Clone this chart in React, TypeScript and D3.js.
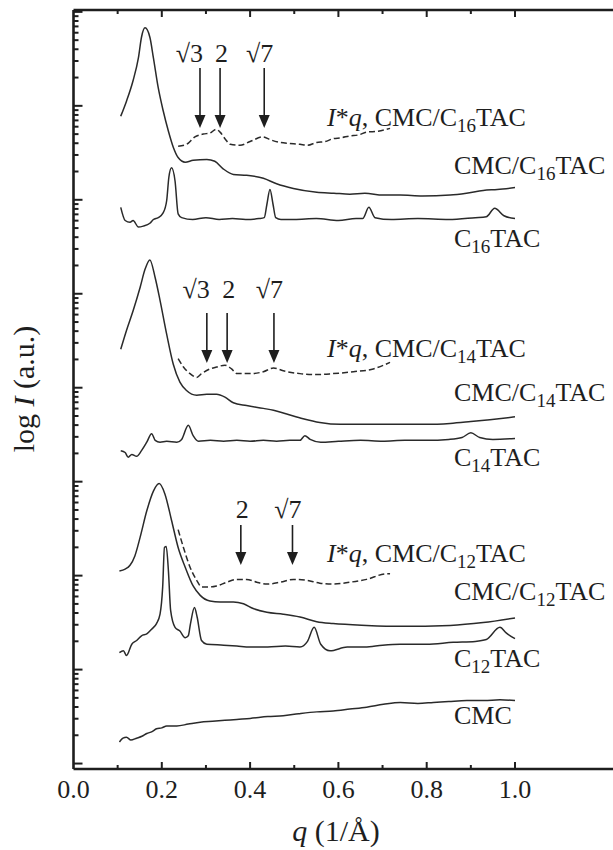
import React from 'react';
import * as d3 from 'd3';

const W = 613;
const H = 850;

// [q (1/Å), log10 I]
const cmcC16TAC: [number, number][] = [
  [0.107, 6.89], [0.120, 7.05], [0.135, 7.27], [0.147, 7.51], [0.154, 7.73], [0.162, 7.83],
  [0.173, 7.73], [0.181, 7.51], [0.192, 7.19], [0.203, 6.95], [0.215, 6.73], [0.226, 6.56],
  [0.237, 6.45], [0.253, 6.40], [0.271, 6.42], [0.302, 6.43], [0.320, 6.41], [0.339, 6.33],
  [0.362, 6.27], [0.392, 6.26], [0.430, 6.23], [0.460, 6.17], [0.498, 6.12], [0.551, 6.08],
  [0.590, 6.07], [0.626, 6.06], [0.660, 6.07], [0.701, 6.05], [0.740, 6.05], [0.790, 6.04],
  [0.853, 6.05], [0.890, 6.07], [0.928, 6.10], [0.960, 6.11], [1.000, 6.13],
];
const iqC16TAC: [number, number][] = [
  [0.237, 6.57], [0.256, 6.59], [0.275, 6.67], [0.294, 6.70], [0.309, 6.71], [0.323, 6.75],
  [0.332, 6.72], [0.343, 6.65], [0.355, 6.59], [0.377, 6.58], [0.400, 6.62], [0.429, 6.67],
  [0.445, 6.64], [0.468, 6.61], [0.490, 6.60], [0.513, 6.59], [0.530, 6.58], [0.551, 6.61],
  [0.570, 6.62], [0.588, 6.65], [0.606, 6.66], [0.626, 6.68], [0.645, 6.69], [0.664, 6.72],
  [0.690, 6.73], [0.717, 6.76],
];
const c16TAC: [number, number][] = [
  [0.107, 5.92], [0.117, 5.78], [0.128, 5.76], [0.135, 5.78], [0.147, 5.71], [0.158, 5.72],
  [0.173, 5.75], [0.181, 5.79], [0.192, 5.81], [0.203, 5.86], [0.211, 5.99], [0.216, 6.24],
  [0.222, 6.34], [0.230, 6.20], [0.237, 5.85], [0.245, 5.81], [0.270, 5.79], [0.300, 5.81],
  [0.330, 5.79], [0.360, 5.80], [0.390, 5.79], [0.420, 5.80], [0.432, 5.81], [0.438, 5.95],
  [0.445, 6.11], [0.452, 5.95], [0.458, 5.81], [0.470, 5.79], [0.500, 5.79], [0.550, 5.80],
  [0.600, 5.78], [0.640, 5.80], [0.655, 5.80], [0.669, 5.92], [0.683, 5.81], [0.720, 5.79],
  [0.780, 5.80], [0.850, 5.79], [0.910, 5.81], [0.935, 5.82], [0.954, 5.91], [0.975, 5.83],
  [1.000, 5.80],
];

const cmcC14TAC: [number, number][] = [
  [0.107, 4.41], [0.120, 4.61], [0.135, 4.82], [0.151, 5.07], [0.162, 5.26], [0.173, 5.36],
  [0.185, 5.17], [0.196, 4.93], [0.211, 4.57], [0.226, 4.25], [0.241, 4.06], [0.256, 3.97],
  [0.279, 3.92], [0.302, 3.93], [0.324, 3.93], [0.343, 3.90], [0.362, 3.84], [0.392, 3.81],
  [0.430, 3.78], [0.453, 3.76], [0.483, 3.72], [0.520, 3.67], [0.558, 3.63], [0.604, 3.61],
  [0.664, 3.61], [0.740, 3.61], [0.800, 3.61], [0.853, 3.62], [0.900, 3.64], [0.943, 3.66],
  [1.000, 3.69],
];
const iqC14TAC: [number, number][] = [
  [0.237, 4.31], [0.249, 4.22], [0.264, 4.15], [0.279, 4.11], [0.290, 4.15], [0.309, 4.20],
  [0.324, 4.22], [0.343, 4.24], [0.358, 4.20], [0.370, 4.15], [0.400, 4.15], [0.430, 4.17],
  [0.453, 4.21], [0.475, 4.18], [0.513, 4.15], [0.551, 4.14], [0.588, 4.15], [0.634, 4.17],
  [0.679, 4.20], [0.717, 4.27],
];
const c14TAC: [number, number][] = [
  [0.107, 3.33], [0.117, 3.31], [0.124, 3.26], [0.132, 3.29], [0.143, 3.27], [0.154, 3.33],
  [0.166, 3.42], [0.177, 3.51], [0.185, 3.44], [0.196, 3.42], [0.211, 3.43], [0.234, 3.42],
  [0.245, 3.45], [0.260, 3.60], [0.271, 3.49], [0.283, 3.43], [0.310, 3.44], [0.340, 3.43],
  [0.370, 3.44], [0.400, 3.43], [0.430, 3.44], [0.460, 3.43], [0.490, 3.44], [0.513, 3.44],
  [0.524, 3.49], [0.536, 3.45], [0.560, 3.42], [0.600, 3.43], [0.650, 3.44], [0.700, 3.43],
  [0.750, 3.44], [0.800, 3.44], [0.850, 3.45], [0.880, 3.47], [0.900, 3.52], [0.920, 3.47],
  [0.950, 3.45], [1.000, 3.46],
];

const cmcC12TAC: [number, number][] = [
  [0.104, 2.05], [0.117, 2.07], [0.128, 2.11], [0.139, 2.21], [0.151, 2.41], [0.166, 2.69],
  [0.181, 2.90], [0.194, 2.98], [0.207, 2.87], [0.222, 2.59], [0.237, 2.30], [0.253, 2.09],
  [0.271, 1.89], [0.287, 1.79], [0.309, 1.73], [0.332, 1.72], [0.362, 1.72], [0.385, 1.70],
  [0.407, 1.65], [0.438, 1.61], [0.475, 1.59], [0.513, 1.56], [0.551, 1.51], [0.588, 1.49],
  [0.664, 1.47], [0.740, 1.46], [0.853, 1.47], [0.928, 1.50], [1.000, 1.55],
];
const iqC12TAC: [number, number][] = [
  [0.237, 2.49], [0.249, 2.30], [0.264, 2.09], [0.279, 1.95], [0.290, 1.88], [0.309, 1.88],
  [0.324, 1.89], [0.347, 1.93], [0.370, 1.96], [0.392, 1.96], [0.415, 1.93], [0.438, 1.91],
  [0.468, 1.93], [0.498, 1.96], [0.528, 1.95], [0.558, 1.92], [0.588, 1.91], [0.626, 1.93],
  [0.664, 1.96], [0.709, 2.02], [0.717, 2.02],
];
const c12TAC: [number, number][] = [
  [0.104, 1.18], [0.113, 1.20], [0.120, 1.15], [0.132, 1.27], [0.143, 1.31], [0.154, 1.36],
  [0.166, 1.38], [0.177, 1.43], [0.188, 1.49], [0.196, 1.59], [0.202, 1.88], [0.206, 2.30],
  [0.210, 2.31], [0.215, 2.05], [0.220, 1.63], [0.230, 1.45], [0.241, 1.41], [0.253, 1.34],
  [0.260, 1.36], [0.265, 1.49], [0.274, 1.66], [0.280, 1.56], [0.290, 1.31], [0.302, 1.27],
  [0.340, 1.26], [0.370, 1.25], [0.400, 1.24], [0.440, 1.24], [0.480, 1.25], [0.513, 1.24],
  [0.530, 1.30], [0.545, 1.45], [0.560, 1.27], [0.581, 1.20], [0.620, 1.24], [0.660, 1.24],
  [0.700, 1.26], [0.740, 1.27], [0.800, 1.27], [0.860, 1.29], [0.910, 1.30], [0.935, 1.32],
  [0.966, 1.45], [0.980, 1.39], [1.000, 1.33],
];

const cmc: [number, number][] = [
  [0.104, 0.23], [0.112, 0.27], [0.120, 0.28], [0.130, 0.25], [0.143, 0.27], [0.155, 0.29],
  [0.166, 0.32], [0.178, 0.34], [0.188, 0.37], [0.200, 0.38], [0.211, 0.40], [0.234, 0.40],
  [0.260, 0.42], [0.287, 0.44], [0.315, 0.45], [0.343, 0.46], [0.370, 0.47], [0.400, 0.48],
  [0.440, 0.50], [0.475, 0.51], [0.510, 0.53], [0.551, 0.55], [0.588, 0.56], [0.626, 0.58],
  [0.664, 0.60], [0.702, 0.63], [0.740, 0.65], [0.780, 0.64], [0.815, 0.65], [0.850, 0.66],
  [0.891, 0.67], [0.930, 0.67], [0.966, 0.68], [1.000, 0.67],
];

const xMajorTicks = [0.0, 0.2, 0.4, 0.6, 0.8, 1.0];
const xMinorTicks = [0.1, 0.3, 0.5, 0.7, 0.9];
const yDecades = [0, 1, 2, 3, 4, 5, 6, 7, 8];

// peak-ratio markers: q position and label
const markersC16 = [{ q: 0.2865, t: '√3' }, { q: 0.332, t: '2' }, { q: 0.432, t: '√7' }];
const markersC14 = [{ q: 0.302, t: '√3' }, { q: 0.348, t: '2' }, { q: 0.454, t: '√7' }];
const markersC12 = [{ q: 0.379, t: '2' }, { q: 0.496, t: '√7' }];

const series = [
  { d: cmcC16TAC, dashed: false }, { d: iqC16TAC, dashed: true }, { d: c16TAC, dashed: false },
  { d: cmcC14TAC, dashed: false }, { d: iqC14TAC, dashed: true }, { d: c14TAC, dashed: false },
  { d: cmcC12TAC, dashed: false }, { d: iqC12TAC, dashed: true }, { d: c12TAC, dashed: false },
  { d: cmc, dashed: false },
];

const FONT = '"Liberation Serif", "Times New Roman", serif';
const INK = '#1e1e1e';

const Sub = ({ n }: { n: string }) => (
  <>
    <tspan fontSize={19} dy={6}>{n}</tspan>
    <tspan dy={-6}>TAC</tspan>
  </>
);

export default function App() {
  const x = d3.scaleLinear().domain([0, 1.22]).range([73.5, 73.5 + 1.22 * 441.5]);
  const y = d3.scaleLog().domain([10 ** -0.058, 10 ** 8.02]).range([769, 10]);
  const top = 10, bottom = 769, left = 73.5, right = W;

  const line = d3.line<[number, number]>()
    .x(d => x(d[0]))
    .y(d => y(10 ** d[1]))
    .curve(d3.curveMonotoneX);

  const yMinor: number[] = [];
  yDecades.slice(0, -1).forEach(k => {
    for (let m = 2; m <= 9; m++) yMinor.push(m * 10 ** k);
  });

  const markerGroups = [
    { list: markersC16, textY: 62, y0: 68, y1: 128 },
    { list: markersC14, textY: 298, y0: 313, y1: 363 },
    { list: markersC12, textY: 518, y0: 525, y1: 565 },
  ];
  const textOffset: Record<string, number> = { '√3': 3, '2': 8, '√7': 9 };

  return (
    <svg width={W} height={H} style={{ position: 'absolute', left: 0, top: 0, display: 'block', background: '#fff' }}
      fontFamily={FONT}>
      {/* curves */}
      {series.map((s, i) => (
        <path key={i} d={line(s.d) || ''} fill="none" stroke="#2a2a2a" strokeWidth={1.5}
          strokeDasharray={s.dashed ? '6 3' : undefined} strokeLinejoin="round" />
      ))}

      {/* arrows */}
      {markerGroups.map((g, gi) => (
        <g key={gi}>
          {g.list.map((m, i) => {
            const ax = x(m.q);
            return (
              <g key={i}>
                <line x1={ax} x2={ax} y1={g.y0} y2={g.y1 - 10} stroke={INK} strokeWidth={1.6} />
                <path d={`M${ax - 5.5},${g.y1 - 13} L${ax + 5.5},${g.y1 - 13} L${ax},${g.y1} Z`} fill={INK} />
                <text x={ax + textOffset[m.t]} y={g.textY} fontSize={26} textAnchor="end" fill={INK}>{m.t}</text>
              </g>
            );
          })}
        </g>
      ))}

      {/* curve labels */}
      <g fontSize={26} fill={INK}>
        <text x={327} y={126}><tspan fontStyle="italic">I</tspan>*<tspan fontStyle="italic">q</tspan>, CMC/C<Sub n="16" /></text>
        <text x={454} y={174}>CMC/C<Sub n="16" /></text>
        <text x={454} y={247}>C<Sub n="16" /></text>
        <text x={327} y={357}><tspan fontStyle="italic">I</tspan>*<tspan fontStyle="italic">q</tspan>, CMC/C<Sub n="14" /></text>
        <text x={454} y={401}>CMC/C<Sub n="14" /></text>
        <text x={454} y={466}>C<Sub n="14" /></text>
        <text x={327} y={562}><tspan fontStyle="italic">I</tspan>*<tspan fontStyle="italic">q</tspan>, CMC/C<Sub n="12" /></text>
        <text x={454} y={600}>CMC/C<Sub n="12" /></text>
        <text x={454} y={667}>C<Sub n="12" /></text>
        <text x={454} y={724}>CMC</text>
      </g>

      {/* frame (right side is cut off in the original) */}
      <g stroke={INK} strokeWidth={2.6} fill="none">
        <line x1={left} x2={right} y1={top} y2={top} />
        <line x1={left} x2={right} y1={bottom} y2={bottom} />
        <line x1={left} x2={left} y1={top} y2={bottom} />
      </g>

      {/* x ticks (inward, top and bottom) */}
      <g stroke={INK} strokeWidth={2}>
        {xMajorTicks.filter(t => t > 0).map(t => (
          <g key={'M' + t}>
            <line x1={x(t)} x2={x(t)} y1={bottom} y2={bottom - 7} />
            <line x1={x(t)} x2={x(t)} y1={top} y2={top + 7} />
          </g>
        ))}
        {xMinorTicks.map(t => (
          <g key={'m' + t}>
            <line x1={x(t)} x2={x(t)} y1={bottom} y2={bottom - 4} />
            <line x1={x(t)} x2={x(t)} y1={top} y2={top + 4} />
          </g>
        ))}
      </g>

      {/* y ticks (log, no labels) */}
      <g stroke={INK} strokeWidth={2}>
        {yDecades.map(k => (
          <line key={'D' + k} x1={left} x2={left + 9} y1={y(10 ** k)} y2={y(10 ** k)} />
        ))}
        {yMinor.map((v, i) => (
          <line key={'d' + i} x1={left} x2={left + 5} y1={y(v)} y2={y(v)} />
        ))}
      </g>

      {/* x tick labels */}
      <g fontSize={26} fill={INK} textAnchor="middle">
        {xMajorTicks.map(t => (
          <text key={t} x={x(t)} y={798}>{d3.format('.1f')(t)}</text>
        ))}
      </g>

      {/* axis titles */}
      <text x={336} y={841} fontSize={30} textAnchor="middle" fill={INK}>
        <tspan fontStyle="italic">q</tspan> (1/Å)
      </text>
      <text transform="translate(34,389) rotate(-90)" fontSize={30} textAnchor="middle" fill={INK}>
        log <tspan fontStyle="italic">I</tspan> (a.u.)
      </text>
    </svg>
  );
}
